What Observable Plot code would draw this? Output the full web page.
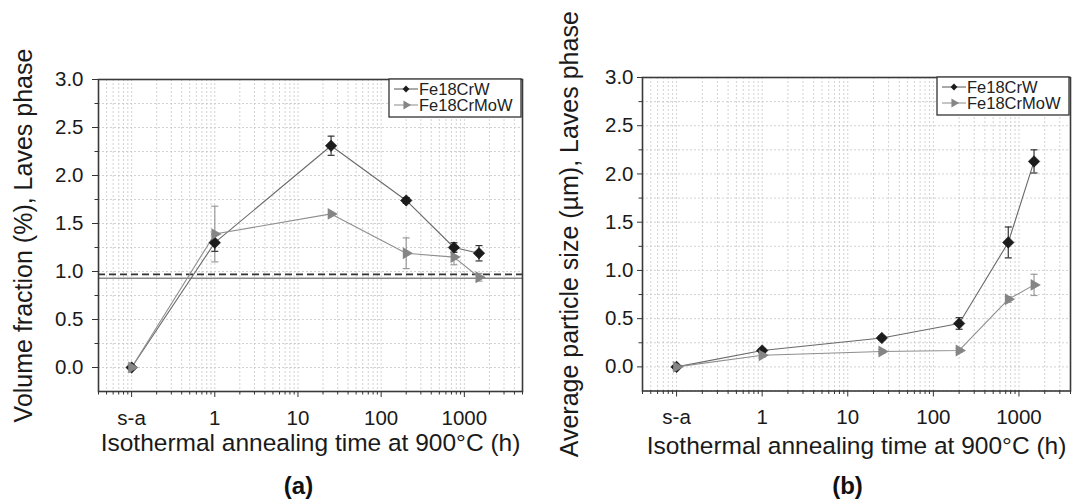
<!DOCTYPE html>
<html>
<head>
<meta charset="utf-8">
<script src="https://cdn.jsdelivr.net/npm/d3@7"></script>
<script src="https://cdn.jsdelivr.net/npm/@observablehq/plot@0.6"></script>
<style>
  html, body { margin: 0; padding: 0; background: #fff; }
  #wrap { display: flex; flex-direction: row; width: 1072px; height: 503px; overflow: hidden; }
</style>
</head>
<body>
<div id="wrap"></div>
<script>
// ---- data ----
const seriesNames = ["Fe18CrW", "Fe18CrMoW"];
const times = [0.1, 1, 25, 200, 750, 1500];          // 0.1 stands for "s-a"
const timeTicks = [0.1, 1, 10, 100, 1000];
const timeTickLabels = ["s-a", "1", "10", "100", "1000"];

const volCrW    = [0, 1.30, 2.31, 1.74, 1.25, 1.19];
const volCrWErr = [0, 0.09, 0.10, 0.03, 0.05, 0.08];
const volMoW    = [0, 1.39, 1.60, 1.19, 1.15, 0.94];
const volMoWErr = [0, 0.29, 0.00, 0.16, 0.08, 0.04];

const sizeCrW    = [0, 0.17, 0.30, 0.45, 1.29, 2.13];
const sizeCrWErr = [0, 0.02, 0.02, 0.06, 0.16, 0.12];
const sizeMoW    = [0, 0.12, 0.16, 0.17, 0.70, 0.85];
const sizeMoWErr = [0, 0.02, 0.02, 0.02, 0.03, 0.11];

const refDashed = 0.97;
const refSolid = 0.93;

const yMajor = [0, 0.5, 1.0, 1.5, 2.0, 2.5, 3.0];
const yMinor = [-0.25, 0.25, 0.75, 1.25, 1.75, 2.25, 2.75];

const xTitle = "Isothermal annealing time at 900°C (h)";
const yTitleA = "Volume fraction (%), Laves phase";
const yTitleB = "Average particle size (µm), Laves phase";

// ---- helpers ----
const FONT = "'Liberation Sans', Arial, Helvetica, sans-serif";
const DARK = "#1c1c1c", GRAY = "#858585";
const tickLabelMap = new Map(timeTicks.map((t, i) => [t, timeTickLabels[i]]));

function minorLogTicks(lo, hi) {
  const out = [];
  for (let e = -2; e <= 4; e++) {
    for (let m = 1; m <= 9; m++) {
      const v = m * Math.pow(10, e);
      if (v >= lo && v <= hi && !timeTicks.some(t => Math.abs(t - v) / v < 1e-9)) out.push(+v.toPrecision(6));
    }
  }
  return out;
}

const capSymbol = {
  draw(ctx, size) {
    const w = 3.5;
    ctx.moveTo(-w, 0); ctx.lineTo(w, 0);
  }
};

function rows(vals, errs, name) {
  return times.map((t, i) => ({t, v: vals[i], lo: vals[i] - errs[i], hi: vals[i] + errs[i], e: errs[i], name}));
}

function legendMark() {
  return (index, scales, values, dims) => {
    const right = dims.width - dims.marginRight - 1;
    const top = dims.marginTop;
    const w = 132, h = 38;
    const left = right - w;
    const g = d3.create("svg:g");
    g.append("rect").attr("x", left).attr("y", top).attr("width", w).attr("height", h)
      .attr("fill", "white").attr("stroke", "#333").attr("stroke-width", 1.3);
    const items = [
      {name: seriesNames[0], color: DARK, line: "#555", sym: d3.symbol(d3.symbolDiamond2, 30)(), rot: 0},
      {name: seriesNames[1], color: GRAY, line: "#8a8a8a", sym: d3.symbol(d3.symbolTriangle, 34)(), rot: 90}
    ];
    items.forEach((it, i) => {
      const y = top + 10 + i * 16;
      g.append("line").attr("x1", left + 5).attr("x2", left + 29).attr("y1", y).attr("y2", y)
        .attr("stroke", it.line).attr("stroke-width", 1);
      g.append("path").attr("d", it.sym).attr("fill", it.color)
        .attr("transform", `translate(${left + 17},${y}) rotate(${it.rot})`);
      g.append("text").attr("x", left + 30).attr("y", y).attr("dy", "0.36em")
        .attr("text-anchor", "start")
        .attr("font-size", 16.5).attr("fill", "#222").attr("font-family", FONT).text(it.name);
    });
    return g.node();
  };
}

function panel(cfg) {
  const crw = rows(cfg.crw, cfg.crwErr, seriesNames[0]);
  const mow = rows(cfg.mow, cfg.mowErr, seriesNames[1]);
  const minor = minorLogTicks(cfg.xDomain[0], cfg.xDomain[1]);
  const allX = [...timeTicks, ...minor];
  const marks = [
    Plot.gridX(allX, {stroke: "#c6c6c6", strokeOpacity: 1, strokeDasharray: "2,2", strokeWidth: 0.8}),
    Plot.gridY([...yMajor, ...yMinor], {stroke: "#c6c6c6", strokeOpacity: 1, strokeDasharray: "2,2", strokeWidth: 0.8}),
  ];
  if (cfg.refs) {
    marks.push(Plot.ruleY([refSolid], {stroke: "#8a8a8a", strokeWidth: 1.6}));
    marks.push(Plot.ruleY([refDashed], {stroke: "#333", strokeWidth: 1.6, strokeDasharray: "7,4"}));
  }
  marks.push(
    Plot.line(crw, {x: "t", y: "v", stroke: "#6a6a6a", strokeWidth: 1.1}),
    Plot.line(mow, {x: "t", y: "v", stroke: "#8f8f8f", strokeWidth: 1.1}),
    Plot.ruleX(mow.filter(d => d.e > 0), {x: "t", y1: "lo", y2: "hi", stroke: "#9a9a9a", strokeWidth: 1.2}),
    Plot.dot(mow.filter(d => d.e > 0).flatMap(d => [{t: d.t, y: d.lo}, {t: d.t, y: d.hi}]), {x: "t", y: "y", symbol: capSymbol, stroke: "#9a9a9a", strokeWidth: 1.2, r: 3}),
    Plot.ruleX(crw.filter(d => d.e > 0), {x: "t", y1: "lo", y2: "hi", stroke: "#333", strokeWidth: 1.2}),
    Plot.dot(crw.filter(d => d.e > 0).flatMap(d => [{t: d.t, y: d.lo}, {t: d.t, y: d.hi}]), {x: "t", y: "y", symbol: capSymbol, stroke: "#333", strokeWidth: 1.2, r: 3}),
    Plot.dot(crw, {x: "t", y: "v", symbol: "diamond2", r: 5.2, fill: DARK, stroke: "#111", strokeWidth: 0.5}),
    Plot.dot(mow, {x: "t", y: "v", symbol: "triangle", r: 4.4, fill: GRAY, rotate: 90, stroke: "none"}),
    Plot.frame({stroke: "#3a3a3a", strokeWidth: 1.6}),
    Plot.axisX(timeTicks, {tickFormat: d => tickLabelMap.get(d), tickSize: 6, tickPadding: cfg.xPad, fontSize: 20.5, stroke: "#333", fill: "#1a1a1a", label: null}),
    Plot.axisX(minor, {tickFormat: null, text: null, tickSize: 3.5, stroke: "#333", label: null}),
    Plot.axisY(yMajor, {tickFormat: d => d.toFixed(1), tickSize: cfg.yTick, tickPadding: cfg.yPad, fontSize: 20.5, stroke: "#333", fill: "#1a1a1a", label: null}),
    Plot.axisY(yMinor.filter(d => d > -0.25), {text: null, tickSize: 3.5, stroke: "#333", label: null}),
    Plot.text([cfg.yTitle], {frameAnchor: "left", rotate: -90, dx: cfg.yTitleDx, textAnchor: "middle", lineAnchor: "middle", fontSize: 25, fill: "#1a1a1a"}),
    Plot.text([xTitle], {frameAnchor: "bottom", dy: cfg.xTitleDy, textAnchor: "middle", lineAnchor: "middle", fontSize: 24.5, fill: "#1a1a1a"}),
    Plot.text([cfg.panelLabel], {frameAnchor: "bottom", dy: cfg.labelDy, dx: cfg.labelDx, textAnchor: "middle", lineAnchor: "middle", fontSize: 24, fontWeight: "bold", fill: "#111"}),
    legendMark()
  );
  return Plot.plot({
    width: 536, height: 503,
    marginLeft: cfg.ml, marginRight: cfg.mr, marginTop: cfg.mt, marginBottom: cfg.mb,
    x: {type: "log", domain: cfg.xDomain, label: null},
    y: {domain: [-0.25, 3.0], label: null},
    style: {fontFamily: FONT, background: "white", color: "#1a1a1a"},
    marks
  });
}

const wrap = document.getElementById("wrap");
wrap.append(panel({
  crw: volCrW, crwErr: volCrWErr, mow: volMoW, mowErr: volMoWErr, refs: true,
  xDomain: [0.04, 5000], ml: 98, mr: 14, mt: 79, mb: 112,
  yTick: 6, yPad: 9, xPad: 13,
  yTitle: yTitleA, yTitleDx: -75, xTitleDy: 52, labelDy: 95, labelDx: -12, panelLabel: "(a)"
}));
wrap.append(panel({
  crw: sizeCrW, crwErr: sizeCrWErr, mow: sizeMoW, mowErr: sizeMoWErr, refs: false,
  xDomain: [0.04, 4000], ml: 106, mr: 2, mt: 77, mb: 112.5,
  yTick: 5, yPad: 4, xPad: 12,
  yTitle: yTitleB, yTitleDx: -73, xTitleDy: 55, labelDy: 95, labelDx: -9, panelLabel: "(b)"
}));
</script>
</body>
</html>
